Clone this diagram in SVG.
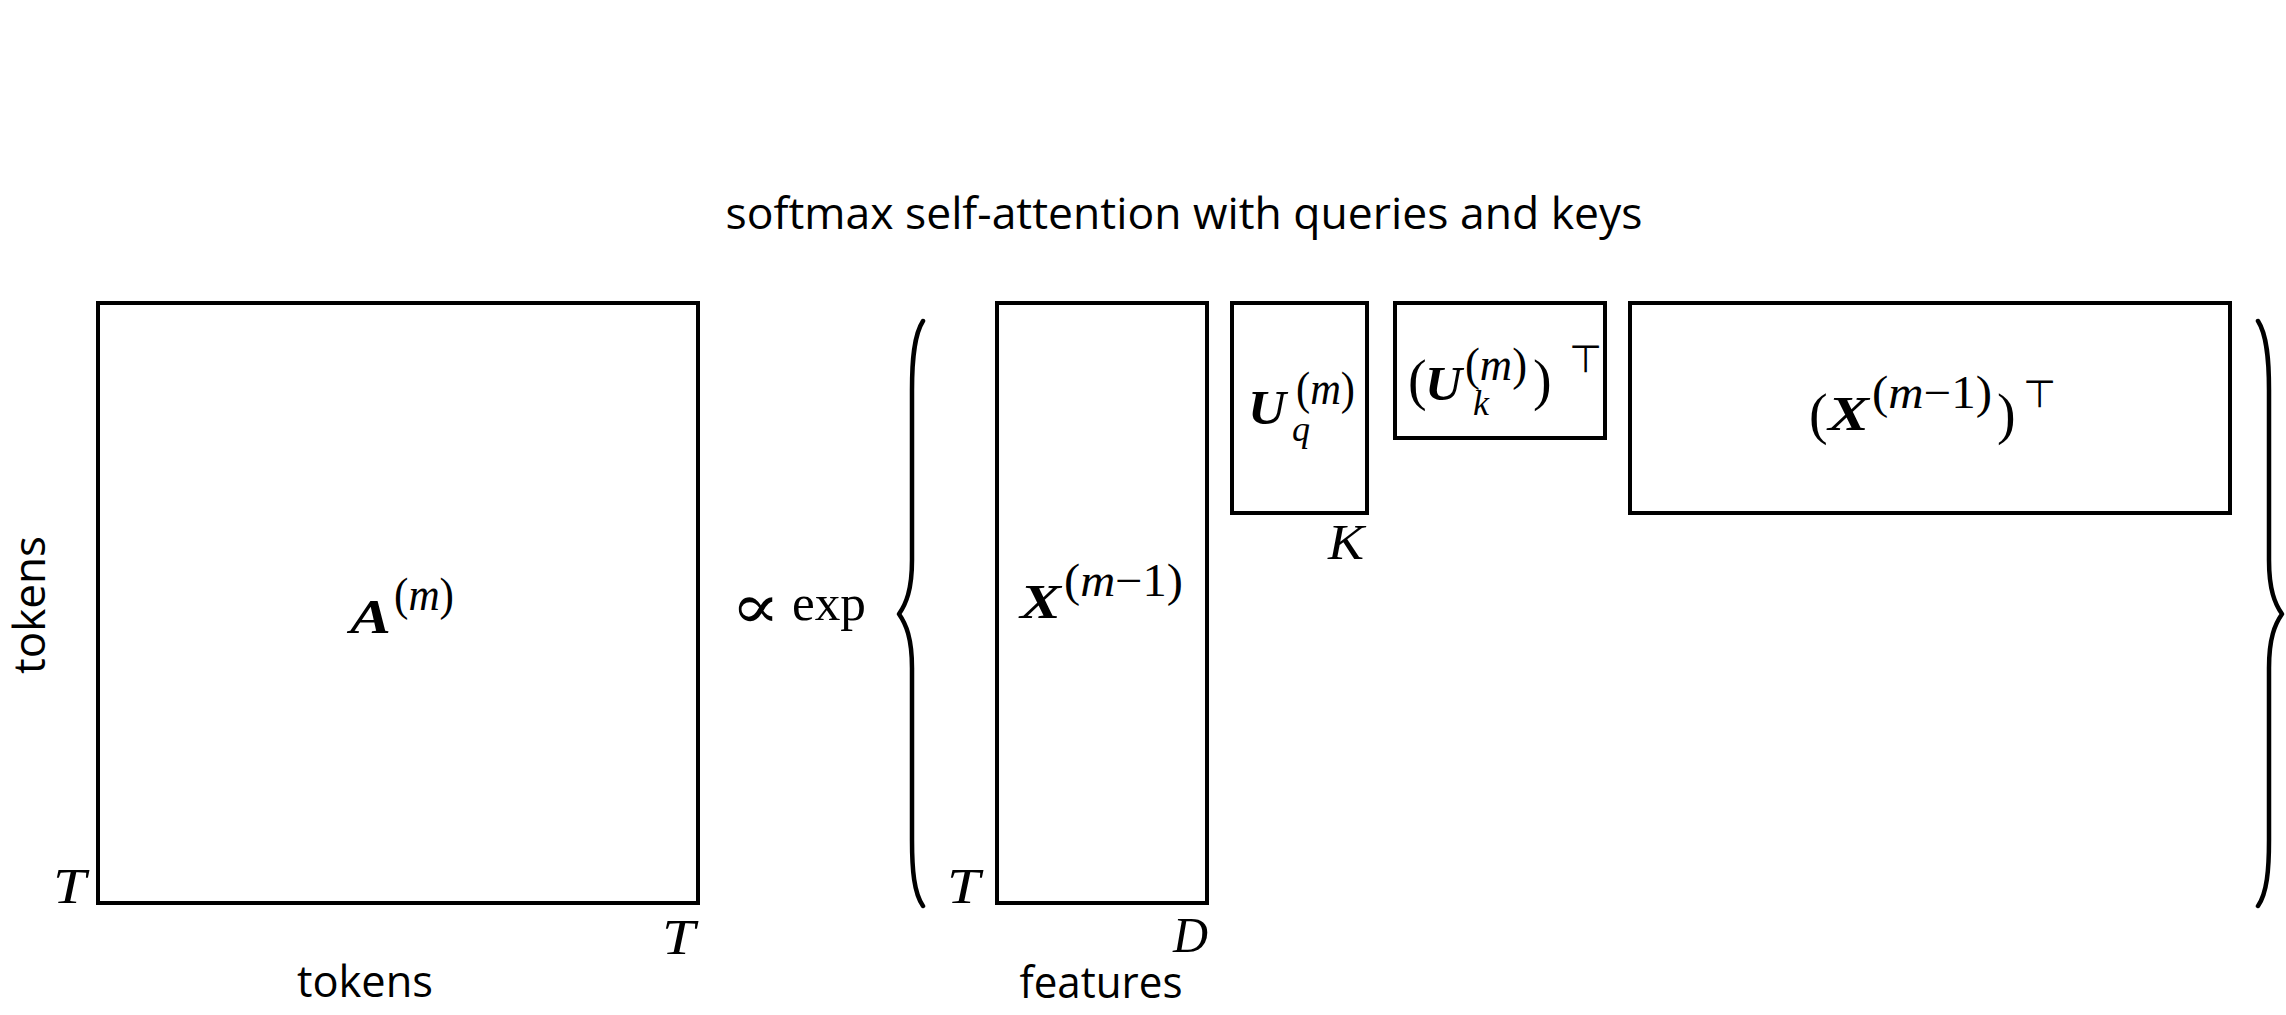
<svg xmlns="http://www.w3.org/2000/svg" width="2286" height="1015" viewBox="0 0 2286 1015">
<style>
.box{fill:none;stroke:#000;stroke-width:4}
.brace{fill:none;stroke:#000;stroke-width:4.5;stroke-linecap:round;stroke-linejoin:round}
.sans{font-family:"Open Sans","Noto Sans","Liberation Sans",sans-serif;font-size:44px;fill:#000}
.m{font-family:"Liberation Serif","DejaVu Serif",serif;fill:#000}
.b{font-size:48px;font-weight:bold;font-style:italic}
.sup{font-size:46px}
.sub{font-size:36px;font-style:italic}
.lab{font-size:50px;font-style:italic}
.par{font-size:56px}
.top{font-family:"DejaVu Sans",sans-serif;font-size:38px;fill:#000}
.it{font-style:italic}
</style>
<rect width="2286" height="1015" fill="#fff"/>
<text class="sans" x="1184" y="229" text-anchor="middle" textLength="917" lengthAdjust="spacingAndGlyphs">softmax self-attention with queries and keys</text>

<g id="nodeA">
<rect class="box" x="98" y="303" width="600" height="600"/>
<text class="m b" x="350" y="633" textLength="41" lengthAdjust="spacingAndGlyphs">A</text>
<text class="m sup" x="394" y="610" textLength="60" lengthAdjust="spacingAndGlyphs">(<tspan class="it">m</tspan>)</text>
<text class="m lab" x="53" y="903" textLength="33" lengthAdjust="spacingAndGlyphs">T</text>
<text class="m lab" x="662" y="954" textLength="33" lengthAdjust="spacingAndGlyphs">T</text>
<text class="sans" x="365" y="997" text-anchor="middle" textLength="136" lengthAdjust="spacingAndGlyphs">tokens</text>
<text class="sans" transform="translate(45,605) rotate(-90)" text-anchor="middle" textLength="138" lengthAdjust="spacingAndGlyphs">tokens</text>
</g>

<g id="propexp">
<text class="m" transform="translate(731,628) scale(1.45,1.25)" font-size="50" font-family="DejaVu Serif, serif">∝</text>
<text class="m" x="792" y="620" font-size="50" textLength="74" lengthAdjust="spacingAndGlyphs">exp</text>
</g>

<g id="nodeX">
<rect class="box" x="997" y="303" width="210" height="600"/>
<text class="m b" x="1020" y="618" textLength="41" lengthAdjust="spacingAndGlyphs">X</text>
<text class="m sup" x="1064" y="596" textLength="119" lengthAdjust="spacingAndGlyphs">(<tspan class="it">m</tspan>−1)</text>
<text class="m lab" x="947" y="903" textLength="33" lengthAdjust="spacingAndGlyphs">T</text>
<text class="m lab" x="1173" y="952" textLength="35" lengthAdjust="spacingAndGlyphs">D</text>
<text class="sans" x="1101" y="998" text-anchor="middle" textLength="163" lengthAdjust="spacingAndGlyphs">features</text>
</g>

<g id="nodeUq">
<rect class="box" x="1232" y="303" width="135" height="210"/>
<text class="m b" x="1248" y="424" textLength="38" lengthAdjust="spacingAndGlyphs">U</text>
<text class="m sup" x="1296" y="404" textLength="59" lengthAdjust="spacingAndGlyphs">(<tspan class="it">m</tspan>)</text>
<text class="m sub" x="1292" y="441">q</text>
<text class="m lab" x="1328" y="559" textLength="36" lengthAdjust="spacingAndGlyphs">K</text>
</g>

<g id="nodeUk">
<rect class="box" x="1395" y="303" width="210" height="135"/>
<text class="m par" x="1408" y="399">(</text>
<text class="m b" x="1425" y="400" textLength="37" lengthAdjust="spacingAndGlyphs">U</text>
<text class="m sup" x="1465" y="380" textLength="62" lengthAdjust="spacingAndGlyphs">(<tspan class="it">m</tspan>)</text>
<text class="m sub" x="1473" y="415">k</text>
<text class="m par" x="1533" y="399">)</text>
<text class="top" x="1569" y="372">⊤</text>
</g>

<g id="nodeXT">
<rect class="box" x="1630" y="303" width="600" height="210"/>
<text class="m par" x="1809" y="433">(</text>
<text class="m b" x="1828" y="430" textLength="41" lengthAdjust="spacingAndGlyphs">X</text>
<text class="m sup" x="1872" y="408" textLength="120" lengthAdjust="spacingAndGlyphs">(<tspan class="it">m</tspan>−1)</text>
<text class="m par" x="1997" y="433">)</text>
<text class="top" x="2023" y="407">⊤</text>
</g>

<g id="connectors">
<path class="brace" d="M923,321 C914,335 912,360 912,390 L912,560 C912,590 906,604 899,614 C906,624 912,638 912,668 L912,840 C912,870 914,893 923,906"/>
<path class="brace" d="M2258,321 C2267,335 2269,360 2269,390 L2269,560 C2269,590 2275,604 2282,614 C2275,624 2269,638 2269,668 L2269,840 C2269,870 2267,893 2258,906"/>
</g>
</svg>
